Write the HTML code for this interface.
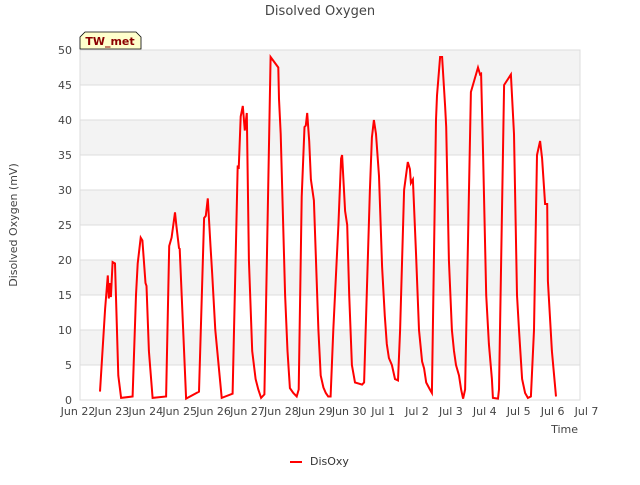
<!DOCTYPE html>
<html><head><meta charset="utf-8"><style>
body{margin:0;background:#fff;font-family:"Liberation Sans","DejaVu Sans",sans-serif}
svg text{font-family:"DejaVu Sans","Liberation Sans",sans-serif}
</style></head><body>
<svg id="chart" width="640" height="480">
<text x="320" y="15" text-anchor="middle" font-size="13" fill="#444">Disolved Oxygen</text>
<g id="bands"></g><g id="grid"></g>
<rect x="80" y="50" width="500" height="350" fill="none" stroke="#ddd"/>
<g id="yt"></g><g id="xt"></g>
<text transform="translate(17,225) rotate(-90)" text-anchor="middle" font-size="11" fill="#444">Disolved Oxygen (mV)</text>
<text x="578" y="433" text-anchor="end" font-size="11" fill="#444">Time</text>
<path id="line" fill="none" stroke="#f00" stroke-width="2"/>
<g><polygon points="80,49 80,37 85,32 136,32 141,37 141,49" fill="#ffffcc" stroke="#000" stroke-width="0.8"/>
<text x="110" y="45" text-anchor="middle" font-size="11" font-weight="bold" fill="#8b0000">TW_met</text></g>
<g><line x1="290" y1="462" x2="302" y2="462" stroke="#f00" stroke-width="2"/>
<text x="310" y="465" font-size="11" fill="#333">DisOxy</text></g>
</svg>
<script>
const xLabels=["Jun 22","Jun 23","Jun 24","Jun 25","Jun 26","Jun 27","Jun 28","Jun 29","Jun 30","Jul 1","Jul 2","Jul 3","Jul 4","Jul 5","Jul 6","Jul 7"];
const yTicks=[0,5,10,15,20,25,30,35,40,45,50];
const times=[0.65,0.8,0.88,0.91,0.94,0.97,1.02,1.09,1.19,1.27,1.61,1.71,1.76,1.85,1.9,1.99,2.02,2.09,2.2,2.6,2.69,2.76,2.86,2.9,2.98,3.0,3.19,3.57,3.72,3.77,3.83,3.91,3.96,4.05,4.24,4.56,4.71,4.74,4.8,4.86,4.92,4.98,5.04,5.14,5.24,5.32,5.4,5.5,5.68,5.91,5.93,5.98,6.11,6.18,6.25,6.35,6.45,6.51,6.6,6.68,6.72,6.76,6.82,6.87,6.96,7.09,7.16,7.24,7.31,7.38,7.45,7.53,7.68,7.76,7.79,7.88,7.94,8.0,8.08,8.17,8.38,8.44,8.61,8.67,8.73,8.79,8.88,8.97,9.05,9.11,9.17,9.26,9.35,9.44,9.5,9.62,9.73,9.79,9.82,9.88,9.97,10.06,10.15,10.21,10.27,10.38,10.44,10.56,10.59,10.68,10.74,10.83,10.86,10.94,11.03,11.09,11.15,11.24,11.3,11.36,11.42,11.59,11.8,11.86,11.89,11.95,12.04,12.12,12.21,12.24,12.39,12.42,12.57,12.77,12.86,12.95,13.01,13.1,13.19,13.27,13.36,13.45,13.54,13.63,13.69,13.78,13.84,13.86,13.98,14.1];
const values=[1.2,13,17.8,14.5,16.7,14.7,19.7,19.5,3.5,0.3,0.5,15,19.5,23.2,22.8,16.7,16.3,7,0.3,0.5,22,23.2,26.8,25,21.7,21.6,0.2,1.2,26,26.3,28.8,22,18,10,0.3,0.9,33.5,33,40.5,42,38.5,41,20,7,3,1.5,0.3,0.8,49,47.5,43,38,15,7,1.7,1,0.5,1.5,29,39,39.2,41,37,31.5,28.5,10,3.5,1.8,1,0.5,0.5,10,25,34.5,35,27,25,15,5,2.5,2.2,2.5,30,37.5,40,38,32,19,12,8,6,5,3,2.8,10,30,34,33,31,31.5,21,10,5.5,4.5,2.5,1.5,1,40,43.5,49,49,42,39,20,10,7,5,3.5,1.5,0.2,1.5,44,47.5,46.5,46.6,35,15,8,3,0.3,0.2,1.5,45,46.5,38,15,10,3,1,0.3,0.5,10,35,37,34.5,28,28,17,7,0.5];
const X=t=>78+33.9*t, Y=v=>400-7*v, NS="http://www.w3.org/2000/svg";
function mk(tag,a,p){const e=document.createElementNS(NS,tag);for(const k in a)e.setAttribute(k,a[k]);document.getElementById(p).appendChild(e);return e;}
for(let i=0;i<yTicks.length-1;i++){if(i%2==1){const r=mk('rect',{x:80,y:Y(yTicks[i+1]),width:500,height:Y(yTicks[i])-Y(yTicks[i+1]),fill:'#f3f3f3'},'bands');

}}
yTicks.forEach(v=>{const l=mk('line',{x1:80,x2:580,y1:Y(v),y2:Y(v),stroke:'#ddd'},'grid');


const t=mk('text',{x:72,y:Y(v)+4,'text-anchor':'end','font-size':11,fill:'#444'},'yt');t.textContent=v;

});
xLabels.forEach((s,i)=>{const t=mk('text',{x:X(i),y:415,'text-anchor':'middle','font-size':11,fill:'#444'},'xt');t.textContent=s;

});
document.getElementById('line').setAttribute('d',times.map((t,i)=>(i?'L':'M')+X(t).toFixed(1)+','+Y(values[i]).toFixed(1)).join(''));
</script>
</body></html>
